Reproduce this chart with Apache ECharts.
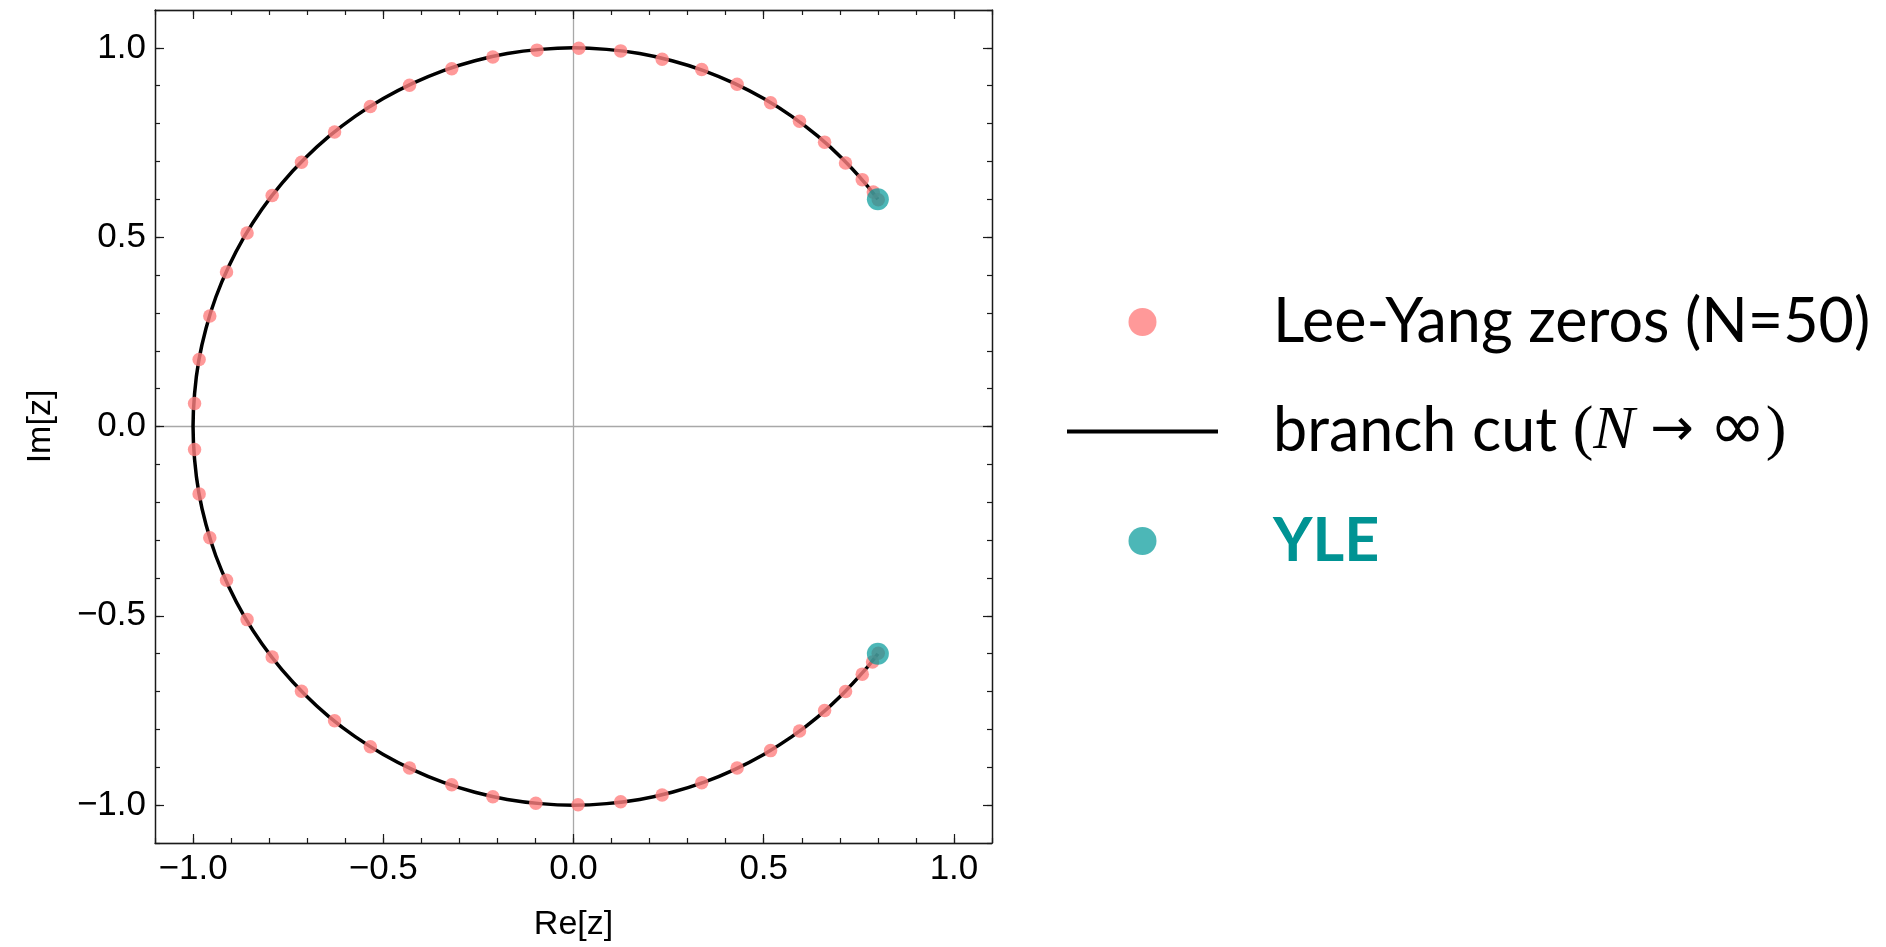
<!DOCTYPE html>
<html><head><meta charset="utf-8">
<script src="https://cdn.jsdelivr.net/npm/echarts@6/dist/echarts.min.js"></script>
<style>html,body{margin:0;padding:0;background:#fff}#c{width:1886px;height:947px}</style>
</head><body><div id="c"></div>
<script>
// Lee-Yang zeros, ordered along the arc
const zerosRe = [0.801, 0.788, 0.759, 0.715, 0.660, 0.594, 0.518, 0.430, 0.337, 0.233, 0.124, 0.014,
  -0.096, -0.212, -0.320, -0.431, -0.534, -0.628, -0.715, -0.792, -0.858, -0.912, -0.956, -0.984, -0.996,
  -0.996, -0.984, -0.956, -0.912, -0.858, -0.792, -0.715, -0.628, -0.534, -0.431, -0.320, -0.212, -0.099,
  0.012, 0.124, 0.233, 0.337, 0.430, 0.518, 0.594, 0.660, 0.715, 0.759, 0.786, 0.801];
const zerosIm = [0.599, 0.619, 0.652, 0.696, 0.751, 0.806, 0.855, 0.904, 0.943, 0.970, 0.992, 0.999,
  0.994, 0.976, 0.945, 0.901, 0.845, 0.778, 0.698, 0.610, 0.511, 0.408, 0.292, 0.177, 0.061,
  -0.061, -0.178, -0.294, -0.406, -0.510, -0.609, -0.699, -0.777, -0.846, -0.902, -0.946, -0.978, -0.995,
  -0.999, -0.991, -0.973, -0.941, -0.902, -0.856, -0.804, -0.750, -0.700, -0.654, -0.622, -0.599];
// Yang-Lee edges
const yleRe = [0.8, 0.8];
const yleIm = [0.6, -0.6];
// branch cut arc points
const cutRe = [0.8, 0.766, 0.707, 0.643, 0.574, 0.5, 0.423, 0.342, 0.259, 0.174, 0.087, 0, -0.087, -0.174, -0.259, -0.342, -0.423, -0.5, -0.574, -0.643, -0.707, -0.766, -0.819, -0.866, -0.906, -0.940, -0.966, -0.985, -0.996, -1,
  -0.996, -0.985, -0.966, -0.940, -0.906, -0.866, -0.819, -0.766, -0.707, -0.643, -0.574, -0.5, -0.423, -0.342, -0.259, -0.174, -0.087, 0, 0.087, 0.174, 0.259, 0.342, 0.423, 0.5, 0.574, 0.643, 0.707, 0.766, 0.8];
const cutIm = [0.6, 0.643, 0.707, 0.766, 0.819, 0.866, 0.906, 0.940, 0.966, 0.985, 0.996, 1, 0.996, 0.985, 0.966, 0.940, 0.906, 0.866, 0.819, 0.766, 0.707, 0.643, 0.574, 0.5, 0.423, 0.342, 0.259, 0.174, 0.087, 0,
  -0.087, -0.174, -0.259, -0.342, -0.423, -0.5, -0.574, -0.643, -0.707, -0.766, -0.819, -0.866, -0.906, -0.940, -0.966, -0.985, -0.996, -1, -0.996, -0.985, -0.966, -0.940, -0.906, -0.866, -0.819, -0.766, -0.707, -0.643, -0.6];
// axis ticks
const majorTicks = [-1.0, -0.5, 0.0, 0.5, 1.0];
const axisMin = -1.1, axisMax = 1.1;
const names = ['Lee-Yang zeros (N=50)', 'branch cut', 'YLE'];

const fmt = v => (v < 0 ? '\u2212' : '') + Math.abs(v).toFixed(1);
const zip = (a, b) => a.map((v, i) => [v, b[i]]);
const frameColor = '#1a1a1a';
const labelFont = {fontFamily: 'Liberation Sans', fontSize: 35, color: '#000'};

function minorAxis(position, withLabel, name) {
  const ax = {
    type: 'value', min: axisMin, max: axisMax, interval: 0.1, position: position, z: 2,
    axisLine: {show: true, onZero: false, lineStyle: {color: frameColor, width: 1.4}},
    axisTick: {show: true, inside: true, length: 5, lineStyle: {color: frameColor, width: 1.2}},
    axisLabel: withLabel ? Object.assign({show: true, customValues: majorTicks, formatter: fmt, margin: 9}, labelFont) : {show: false},
    splitLine: {show: false}
  };
  if (name) Object.assign(ax, name);
  return ax;
}
function majorAxis(position) {
  return {
    type: 'value', min: axisMin, max: axisMax, position: position, z: 2,
    axisLine: {show: false, onZero: false},
    axisTick: {show: true, inside: true, length: 9, customValues: majorTicks, lineStyle: {color: frameColor, width: 1.2}},
    axisLabel: {show: false}, splitLine: {show: false}
  };
}
function zeroAxis(position) {
  return {
    type: 'value', min: axisMin, max: axisMax, interval: 1.1, position: position, z: 0,
    axisLine: {show: false}, axisTick: {show: false}, axisLabel: {show: false},
    splitLine: {show: true, lineStyle: {color: '#a8a8a8', width: 1.3}}
  };
}
const nameStyle = {fontFamily: 'Liberation Sans', fontSize: 34, color: '#000'};

const chart = echarts.init(document.getElementById('c'), null, {renderer: 'canvas'});
chart.setOption({
  animation: false,
  backgroundColor: '#fff',
  grid: {left: 155, top: 10, width: 837, height: 836, containLabel: false},
  xAxis: [
    minorAxis('bottom', true, {name: 'Re[z]', nameLocation: 'middle', nameGap: 65, nameTextStyle: nameStyle}),
    majorAxis('bottom'),
    minorAxis('top', false),
    majorAxis('top'),
    zeroAxis('bottom')
  ],
  yAxis: [
    minorAxis('left', true, {name: 'Im[z]', nameLocation: 'middle', nameGap: 97, nameRotate: 90, nameTextStyle: nameStyle}),
    majorAxis('left'),
    minorAxis('right', false),
    majorAxis('right'),
    zeroAxis('left')
  ],
  legend: {
    left: 1067, top: 286, orient: 'vertical', itemWidth: 151, itemHeight: 28, itemGap: 37.5, padding: 0,
    selectedMode: false, symbolKeepAspect: true,
    textStyle: {
      fontFamily: 'Lato', fontSize: 61, color: '#000', lineHeight: 72, padding: [0, 0, 0, 50],
      rich: {
        a: {fontFamily: 'Lato', fontSize: 61, color: '#000', lineHeight: 72},
        s: {fontFamily: 'Liberation Serif', fontSize: 62, color: '#000', lineHeight: 72},
        n: {fontFamily: 'Liberation Serif', fontStyle: 'italic', fontSize: 62, color: '#000', lineHeight: 72},
        r: {fontFamily: 'DejaVu Sans', fontSize: 52, color: '#000', lineHeight: 72},
        i: {fontFamily: 'DejaVu Sans', fontSize: 68, color: '#000', lineHeight: 72}
      }
    },
    formatter: n => n === names[1] ? '{a|branch cut }{s|(}{n|N}{s| }{r|\u2192}{s| }{i|\u221E}{s|)}' : n,
    data: [
      {name: names[0], icon: 'circle'},
      {name: names[1], icon: 'path://M0,0L151,0L151,4L0,4Z'},
      {name: names[2], icon: 'circle', textStyle: {color: '#009393', fontWeight: 'bold'}}
    ]
  },
  series: [
    {name: names[1], type: 'line', data: zip(cutRe, cutIm), symbol: 'none', showSymbol: false, smooth: 0.4,
     lineStyle: {color: '#000', width: 3.5}, itemStyle: {color: '#000'}, z: 3, silent: true},
    {name: names[0], type: 'scatter', data: zip(zerosRe, zerosIm), symbolSize: 13.5,
     itemStyle: {color: '#ff8080', opacity: 0.8}, z: 4},
    {name: names[2], type: 'scatter', data: zip(yleRe, yleIm), symbolSize: 22,
     itemStyle: {color: '#009999', opacity: 0.7}, z: 5}
  ]
});
</script></body></html>
